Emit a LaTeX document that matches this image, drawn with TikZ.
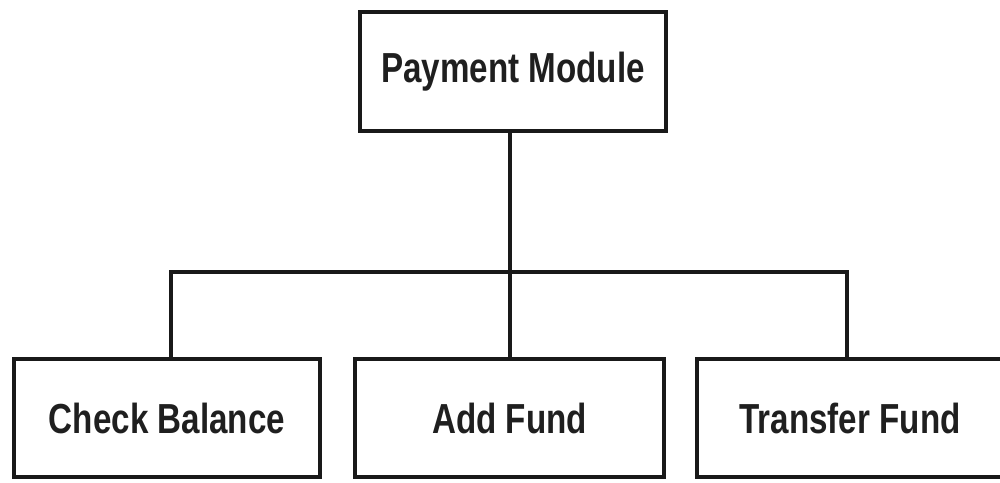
\documentclass[tikz,border=0pt]{standalone}
\usepackage{fontspec}
\setmainfont[FakeStretch=0.79]{Liberation Sans}
\begin{document}
\begin{tikzpicture}[x=1pt,y=-1pt,
  box/.style={draw=black!90, line width=4pt, minimum width=306pt, minimum height=119pt,
    inner sep=0pt, font=\fontsize{42}{44}\selectfont\bfseries, text=black!88},
  link/.style={draw=black!90, line width=4pt}]
\useasboundingbox (0,0) rectangle (1000,482);
\node[box] (top) at (513,71.5) {Payment Module};
\node[box, minimum height=118pt] (check) at (167,418) {Check Balance};
\node[box, minimum width=309pt, minimum height=118pt] (add) at (509.5,418) {Add Fund};
\node[box, minimum height=118pt] (transfer) at (850,418) {Transfer Fund};
% bus junction and branch points
\coordinate (j) at (510,272);
\coordinate (bl) at (171,272);
\coordinate (br) at (847,272);
\draw[link] (top.south -| j) -- (j);
\draw[link] (check.north -| bl) -- (bl) -- (br) -- (transfer.north -| br);
\draw[link] (j) -- (add.north -| j);
\end{tikzpicture}
\end{document}
